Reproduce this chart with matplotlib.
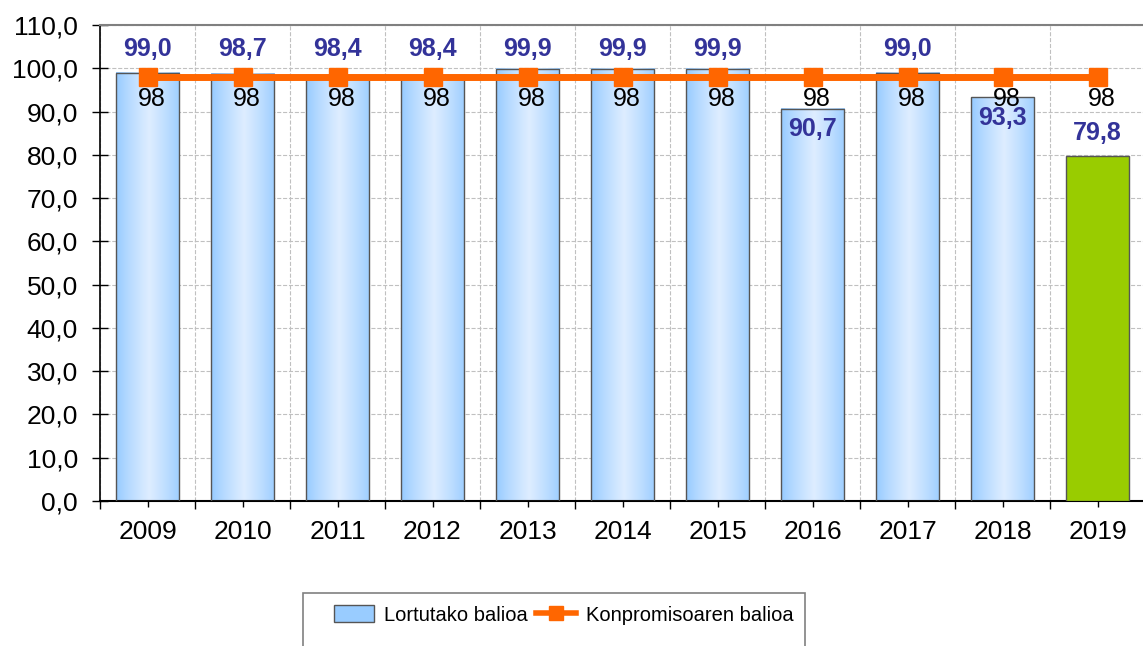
import numpy as np
import matplotlib.pyplot as plt
from matplotlib.patches import Rectangle
from matplotlib.lines import Line2D

plt.rcParams['font.family'] = ['Liberation Sans', 'DejaVu Sans']

# data
years = ['2009', '2010', '2011', '2012', '2013', '2014', '2015', '2016', '2017', '2018', '2019']
lortutako = [99.0, 98.7, 98.4, 98.4, 99.9, 99.9, 99.9, 90.7, 99.0, 93.3, 79.8]
konpromisoa = [98, 98, 98, 98, 98, 98, 98, 98, 98, 98, 98]

label_blue = '#333399'
orange = '#ff6600'
green = '#99cc00'
bar_w = 0.67

fig = plt.figure(figsize=(11.43, 6.46), dpi=100)
ax = fig.add_axes([100 / 1143, 145 / 646, 1045 / 1143, 476 / 646])

x = np.arange(len(years))

# horizontal gradient used for the blue bars
t = np.linspace(0, 1, 64)
light = np.array([0.87, 0.93, 1.0])
dark = np.array([0.58, 0.79, 1.0])
mix = 1 - np.abs(t - 0.52) / 0.52
mix = np.clip(mix, 0, 1) ** 0.8
grad = dark[None, :] * (1 - mix[:, None]) + light[None, :] * mix[:, None]
grad = grad[None, :, :]

for i, v in enumerate(lortutako):
    if i == len(years) - 1:
        ax.bar(x[i], v, width=bar_w, color=green, edgecolor='#555555', linewidth=1, zorder=3)
    else:
        ax.imshow(grad, extent=[x[i] - bar_w / 2, x[i] + bar_w / 2, 0, v],
                  aspect='auto', zorder=2, interpolation='bilinear')
        ax.bar(x[i], v, width=bar_w, facecolor='none', edgecolor='#555555', linewidth=1, zorder=3)

ax.plot(x, konpromisoa, color=orange, lw=5, marker='s', ms=13, zorder=4)

# value labels
for i, v in enumerate(lortutako):
    if v >= konpromisoa[i]:
        ly = 104.5
    elif v < 85:
        ly = v + 5.2
    else:
        ly = v - 4.8
    ax.text(x[i], ly, f'{v:.1f}'.replace('.', ','), ha='center', va='center',
            color=label_blue, fontsize=18, fontweight='bold', zorder=5)
for i, k in enumerate(konpromisoa):
    ax.text(x[i] + 0.05, k - 5, str(k), ha='center', va='center',
            color='black', fontsize=18, zorder=5)

ax.set_xlim(-0.5, len(years) - 0.5)
ax.set_ylim(0, 110)
ax.set_yticks(np.arange(0, 111, 10))
ax.set_yticklabels([f'{v:.1f}'.replace('.', ',') for v in np.arange(0, 111, 10)], fontsize=19)
ax.set_xticks(x)
ax.set_xticklabels(years, fontsize=19)
ax.set_xticks(np.arange(-0.5, len(years)), minor=True)

ax.tick_params(axis='y', direction='inout', length=12, width=1, pad=10)
ax.tick_params(axis='x', which='major', direction='out', length=4.5, width=1, pad=9)
ax.tick_params(axis='x', which='minor', direction='out', length=6, width=1)

ax.grid(axis='y', which='major', color='#c0c0c0', linestyle='--', lw=0.8, zorder=0)
ax.grid(axis='x', which='minor', color='#c0c0c0', linestyle='--', lw=0.8, zorder=0)
ax.set_axisbelow(True)

ax.spines['left'].set_color('black')
ax.spines['left'].set_linewidth(1.2)
ax.spines['bottom'].set_color('black')
ax.spines['bottom'].set_linewidth(1.5)
ax.spines['top'].set_color('#808080')
ax.spines['top'].set_linewidth(1.5)
ax.spines['right'].set_visible(False)

# legend box
fig.patches.append(Rectangle((303 / 1143, -0.05), 502 / 1143, (646 - 593) / 646 + 0.05,
                             transform=fig.transFigure, facecolor='white',
                             edgecolor='#808080', lw=1.2, zorder=0))
handles = [Rectangle((0, 0), 1, 1, facecolor='#99ccff', edgecolor='#555555', lw=1),
           Line2D([], [], color=orange, lw=4, marker='s', ms=10)]
fig.legend(handles, ['Lortutako balioa', 'Konpromisoaren balioa'], ncol=2,
           loc='center', bbox_to_anchor=(564 / 1143, 1 - 615 / 646), frameon=False,
           fontsize=14.5, handlelength=2.0, handleheight=0.9, handletextpad=0.5,
           columnspacing=0.4)

fig.savefig('out.png', dpi=100)
